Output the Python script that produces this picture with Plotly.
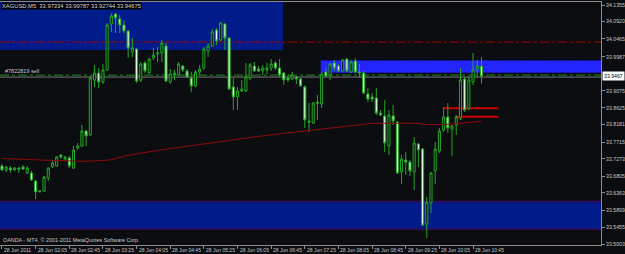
import plotly.graph_objects as go

# ---------------- data ----------------
bars = list(range(115))  # 5-minute bars, 28 Jun 2011 01:25 .. 10:55

opens = [
    33.7078, 33.6972, 33.7025, 33.6972, 33.7025, 33.7052, 33.6892, 33.6892, 33.6679, 33.6413,
    33.6413, 33.6759, 33.7052, 33.7078, 33.7372, 33.7265, 33.7292, 33.7025, 33.7558, 33.7611,
    33.8010, 33.7904, 33.9367, 33.9553, 33.9314, 33.9633, 34.0858, 34.1123, 34.0990, 34.0831,
    34.0671, 34.0113, 34.0192, 33.9367, 33.9819, 33.9553, 33.9953, 34.0060, 34.0086, 34.0272,
    33.9314, 33.9500, 33.9500, 33.9739, 33.9606, 33.9420, 33.9207, 33.9580, 33.9686, 34.0139,
    34.0272, 34.0698, 34.0432, 34.0858, 34.0485, 33.9181, 33.8915, 33.9074, 33.9074, 33.9420,
    33.9739, 33.9659, 33.9606, 33.9633, 33.9686, 33.9819, 33.9686, 33.9553, 33.9420, 33.9393,
    33.9447, 33.9393, 33.9181, 33.8276, 33.8223, 33.8782, 33.8729, 33.9580, 33.9500, 33.9819,
    33.9739, 33.9606, 33.9926, 33.9580, 33.9872, 33.9580, 33.9553, 33.8995, 33.8915, 33.8888,
    33.8489, 33.8410, 33.7611, 33.8410, 33.8250, 33.6919, 33.7238, 33.7185, 33.6919, 33.7665,
    33.7532, 33.5536, 33.6094, 33.6945, 33.7478, 33.8037, 33.8383, 33.8063, 33.8170, 33.8356,
    33.9393, 33.8596, 33.9314, 33.9659, 33.97334]

highs = [
    33.7132, 33.7078, 33.7078, 33.7052, 33.7052, 33.7105, 33.7078, 33.6945, 33.6706, 33.6440,
    33.6812, 33.7052, 33.7211, 33.7345, 33.7399, 33.7345, 33.7345, 33.7611, 33.7691, 33.8170,
    33.8037, 33.9473, 33.9766, 33.9686, 33.9793, 34.0884, 34.1150, 34.1150, 34.1097, 34.0964,
    34.0698, 34.0485, 34.0219, 33.9846, 33.9872, 33.9953, 34.0219, 34.0246, 34.0432, 34.0352,
    33.9659, 33.9633, 33.9846, 33.9766, 33.9659, 33.9580, 33.9633, 33.9766, 34.0246, 34.0352,
    34.0724, 34.0751, 34.0911, 34.0884, 34.0512, 33.9420, 33.9181, 33.9367, 33.9819, 33.9819,
    33.9846, 33.9739, 33.9766, 33.9819, 33.9926, 33.9872, 33.9926, 33.9580, 33.9500, 33.9580,
    33.9473, 33.9420, 33.9234, 33.8755, 33.8782, 33.8968, 33.9580, 33.9686, 33.9819, 33.9899,
    33.9793, 33.9926, 33.9953, 33.9899, 33.9953, 33.9793, 33.9606, 33.9154, 33.9021, 33.9154,
    33.8569, 33.8835, 33.8569, 33.8702, 33.8276, 33.7372, 33.7452, 33.7238, 33.7851, 33.7691,
    33.7558, 33.6254, 33.6919, 33.7718, 33.8090, 33.8649, 33.8755, 33.8170, 33.8436, 33.9686,
    33.9447, 33.9447, 34.0086, 33.9899, 33.99787]

lows = [
    33.6945, 33.6919, 33.6892, 33.6945, 33.6892, 33.6972, 33.6866, 33.6679, 33.6200, 33.6360,
    33.6387, 33.6679, 33.7025, 33.7052, 33.7265, 33.7211, 33.7025, 33.6999, 33.7505, 33.7585,
    33.7611, 33.7877, 33.9181, 33.9154, 33.9261, 33.9606, 34.0645, 34.0618, 34.0618, 34.0618,
    33.9953, 33.9979, 33.9287, 33.9314, 33.9553, 33.9527, 33.9899, 33.9846, 33.9846, 33.9314,
    33.9261, 33.9367, 33.9473, 33.9580, 33.9420, 33.9048, 33.9181, 33.9500, 33.9633, 33.9979,
    34.0246, 34.0299, 34.0405, 34.0166, 33.9101, 33.8569, 33.8569, 33.9048, 33.9048, 33.9367,
    33.9580, 33.9580, 33.9500, 33.9527, 33.9606, 33.9633, 33.9447, 33.9234, 33.9314, 33.9367,
    33.9261, 33.9207, 33.8090, 33.7984, 33.8196, 33.8303, 33.8622, 33.9420, 33.9367, 33.9606,
    33.9580, 33.9580, 33.9580, 33.9553, 33.9553, 33.9447, 33.8995, 33.8782, 33.8782, 33.8436,
    33.8410, 33.7452, 33.7372, 33.8170, 33.6866, 33.6600, 33.6839, 33.6812, 33.6440, 33.7052,
    33.5482, 33.5163, 33.5829, 33.6600, 33.7425, 33.7984, 33.7957, 33.7345, 33.7904, 33.8303,
    33.8516, 33.8569, 33.9234, 33.9447, 33.92744]

closes = [
    33.6972, 33.7052, 33.6972, 33.7025, 33.6999, 33.6999, 33.7025, 33.6706, 33.6387, 33.6400,
    33.6786, 33.7025, 33.7158, 33.7318, 33.7318, 33.7318, 33.7078, 33.7505, 33.7611, 33.8010,
    33.7877, 33.9420, 33.9553, 33.9314, 33.9633, 34.0831, 34.1070, 34.1017, 34.0831, 34.0671,
    34.0219, 34.0219, 33.9340, 33.9793, 33.9606, 33.9926, 34.0033, 34.0086, 34.0352, 33.9340,
    33.9527, 33.9553, 33.9793, 33.9633, 33.9447, 33.9207, 33.9580, 33.9659, 34.0192, 34.0272,
    34.0645, 34.0405, 34.0884, 34.0485, 33.9127, 33.8915, 33.9074, 33.9127, 33.9447, 33.9766,
    33.9606, 33.9606, 33.9686, 33.9686, 33.9793, 33.9686, 33.9500, 33.9367, 33.9367, 33.9500,
    33.9393, 33.9207, 33.8303, 33.8250, 33.8755, 33.8755, 33.9527, 33.9473, 33.9793, 33.9686,
    33.9606, 33.9899, 33.9606, 33.9846, 33.9580, 33.9553, 33.9021, 33.8861, 33.8861, 33.8489,
    33.8436, 33.7691, 33.8436, 33.8276, 33.6892, 33.7265, 33.7185, 33.6945, 33.7691, 33.7505,
    33.5509, 33.6121, 33.6892, 33.7532, 33.8010, 33.8383, 33.8090, 33.8143, 33.8383, 33.9367,
    33.8569, 33.9367, 33.9633, 33.9739, 33.94675]

moving_avg = [
    33.7278, 33.7276, 33.7270, 33.7265, 33.7262, 33.7260, 33.7254, 33.7249, 33.7244, 33.7238,
    33.7233, 33.7228, 33.7222, 33.7220, 33.7217, 33.7214, 33.7212, 33.7209, 33.7206, 33.7204,
    33.7204, 33.7206, 33.7209, 33.7214, 33.7222, 33.7233, 33.7252, 33.7273, 33.7305, 33.7334,
    33.7364, 33.7385, 33.7406, 33.7425, 33.7446, 33.7462, 33.7478, 33.7494, 33.7510, 33.7526,
    33.7542, 33.7558, 33.7576, 33.7595, 33.7611, 33.7627, 33.7643, 33.7661, 33.7677, 33.7693,
    33.7709, 33.7725, 33.7741, 33.7757, 33.7773, 33.7787, 33.7803, 33.7816, 33.7829, 33.7843,
    33.7856, 33.7869, 33.7883, 33.7896, 33.7909, 33.7922, 33.7936, 33.7949, 33.7962, 33.7976,
    33.7989, 33.8002, 33.8015, 33.8029, 33.8037, 33.8042, 33.8050, 33.8063, 33.8077, 33.8090,
    33.8106, 33.8122, 33.8138, 33.8154, 33.8170, 33.8183, 33.8194, 33.8204, 33.8212, 33.8215,
    33.8215, 33.8215, 33.8215, 33.8215, 33.8215, 33.8215, 33.8215, 33.8215, 33.8215, 33.8215,
    33.8183, 33.8178, 33.8178, 33.8178, 33.8178, 33.8178, 33.8188, 33.8196, 33.8210, 33.8215,
    33.8218, 33.8239, 33.8244, 33.8260, 33.8268]

x_tick_bars = [0, 8, 16, 24, 32, 40, 48, 56, 64, 72, 80, 88, 96, 104, 112]
x_tick_labels = ["28 Jun 2011", "28 Jun 02:05", "28 Jun 02:45", "28 Jun 03:25", "28 Jun 04:05",
                 "28 Jun 04:45", "28 Jun 05:25", "28 Jun 06:05", "28 Jun 06:45", "28 Jun 07:25",
                 "28 Jun 08:05", "28 Jun 08:45", "28 Jun 09:25", "28 Jun 10:05", "28 Jun 10:45"]

y_tick_vals = [34.1355, 34.0920, 34.0465, 33.9987, 33.9075, 33.8625, 33.8181, 33.7715,
               33.7273, 33.6805, 33.6363, 33.5899, 33.5455, 33.5003]
y_tick_labels = ["34.1355", "34.0920", "34.0465", "33.9987", "33.9075", "33.8625", "33.8181",
                 "33.7715", "33.7273", "33.6805", "33.6363", "33.5899", "33.5455", "33.5003"]

# chart objects (price levels / bar spans)
resistance_zone = dict(bar0=-1, bar1=66.8, low=34.0166, high=34.1443)
sell_zone = dict(bar0=75.8, bar1=150, low=33.9561, high=33.9886)
support_zone = dict(bar0=-1, bar1=150, low=33.5402, high=33.6129)
red_level = 34.0378
order_level = 33.9497
bid_level = 33.9445
target_lines = [dict(bar0=105.0, bar1=118.0, price=33.8614),
                dict(bar0=107.9, bar1=118.0, price=33.8388)]

title_text = "XAGUSD,M5  33.97334 33.99787 33.92744 33.94675"
order_text = "#7822819 sell"
footer_text = "OANDA - MT4, \u00a9 2001-2011 MetaQuotes Software Corp."
price_box_text = "33.9467"

# ---------------- styling ----------------
BG = "#0b0d11"
GREEN = "#22a822"
TXT = "#c8c8c8"
FONT = "Liberation Sans"
X_RANGE = [-0.472, 142.42]
Y_RANGE = [33.4977, 34.1443]

fig = go.Figure()

fig.add_trace(go.Scatter(
    x=bars, y=moving_avg, mode="lines",
    line=dict(color="#8e0a0a", width=1), hoverinfo="skip"))

fig.add_trace(go.Candlestick(
    x=bars, open=opens, high=highs, low=lows, close=closes,
    increasing=dict(line=dict(color=GREEN, width=1), fillcolor=BG),
    decreasing=dict(line=dict(color=GREEN, width=1), fillcolor="#e6ffe6"),
    whiskerwidth=0))

shapes = []
shapes.append(dict(type="rect", xref="x", yref="y", layer="below",
                   x0=resistance_zone["bar0"], x1=resistance_zone["bar1"],
                   y0=resistance_zone["low"], y1=resistance_zone["high"],
                   fillcolor="#021b8a", line=dict(width=0)))
shapes.append(dict(type="rect", xref="x", yref="y", layer="below",
                   x0=support_zone["bar0"], x1=support_zone["bar1"],
                   y0=support_zone["low"], y1=support_zone["high"],
                   fillcolor="#021b8a", line=dict(color="#2a0c62", width=2)))
shapes.append(dict(type="rect", xref="x", yref="y", layer="below",
                   x0=sell_zone["bar0"], x1=sell_zone["bar1"],
                   y0=sell_zone["low"], y1=sell_zone["high"],
                   fillcolor="#2424ff", line=dict(color="#1414a0", width=1, dash="dot")))
shapes.append(dict(type="line", xref="x", yref="y", layer="below",
                   x0=X_RANGE[0], x1=X_RANGE[1], y0=red_level, y1=red_level,
                   line=dict(color="#a00000", width=1, dash="dashdot")))
shapes.append(dict(type="line", xref="x", yref="y", layer="below",
                   x0=X_RANGE[0], x1=X_RANGE[1], y0=bid_level, y1=bid_level,
                   line=dict(color="#7a7a7a", width=1)))
shapes.append(dict(type="line", xref="x", yref="y", layer="below",
                   x0=X_RANGE[0], x1=X_RANGE[1], y0=order_level, y1=order_level,
                   line=dict(color="#1e8c1e", width=1, dash="dashdot")))
for t in target_lines:
    shapes.append(dict(type="line", xref="x", yref="y", layer="below",
                       x0=t["bar0"], x1=t["bar1"], y0=t["price"], y1=t["price"],
                       line=dict(color="#d00000", width=2)))

annotations = []
annotations.append(dict(xref="paper", yref="paper", x=0, y=1, xanchor="left", yanchor="top",
                        xshift=1, text=title_text, showarrow=False, bgcolor="#000000",
                        borderpad=0, font=dict(family=FONT, size=5.8, color="#d8d8d8")))
annotations.append(dict(xref="paper", yref="y", x=0, y=order_level, xanchor="left",
                        yanchor="bottom", xshift=4, text=order_text, showarrow=False,
                        borderpad=0, font=dict(family=FONT, size=5.5, color=TXT)))
annotations.append(dict(xref="paper", yref="paper", x=0, y=0, xanchor="left", yanchor="bottom",
                        xshift=2, yshift=1, text=footer_text, showarrow=False, borderpad=0,
                        font=dict(family=FONT, size=5.4, color=TXT)))
for b, lab in zip(x_tick_bars, x_tick_labels):
    annotations.append(dict(xref="x", yref="paper", x=b, y=0, xanchor="left", yanchor="top",
                            xshift=1, yshift=-1, text=lab, showarrow=False, borderpad=0,
                            font=dict(family=FONT, size=5, color=TXT)))
annotations.append(dict(xref="paper", yref="y", x=1, y=closes[-1], xanchor="left",
                        yanchor="middle", xshift=1, text=price_box_text, showarrow=False,
                        bgcolor="#ffffff", borderpad=1,
                        font=dict(family=FONT, size=5.2, color="#000000")))

fig.update_layout(
    width=625, height=254,
    margin=dict(l=0, r=20, t=2, b=9),
    paper_bgcolor=BG, plot_bgcolor=BG,
    showlegend=False,
    shapes=shapes, annotations=annotations,
    xaxis=dict(range=X_RANGE, showgrid=False, zeroline=False, showline=True,
               linecolor="#8c8c8c", linewidth=1, mirror=True,
               ticks="outside", ticklen=3, tickcolor="#8c8c8c",
               tickvals=x_tick_bars, showticklabels=False,
               rangeslider=dict(visible=False), fixedrange=True),
    yaxis=dict(side="right", range=Y_RANGE, showgrid=False, zeroline=False,
               showline=True, linecolor="#8c8c8c", linewidth=1,
               ticks="outside", ticklen=3, tickcolor="#8c8c8c",
               tickvals=y_tick_vals, ticktext=y_tick_labels,
               tickfont=dict(family=FONT, size=5.2, color=TXT), fixedrange=True),
)

fig.write_html("out.html", config={"displayModeBar": False})
